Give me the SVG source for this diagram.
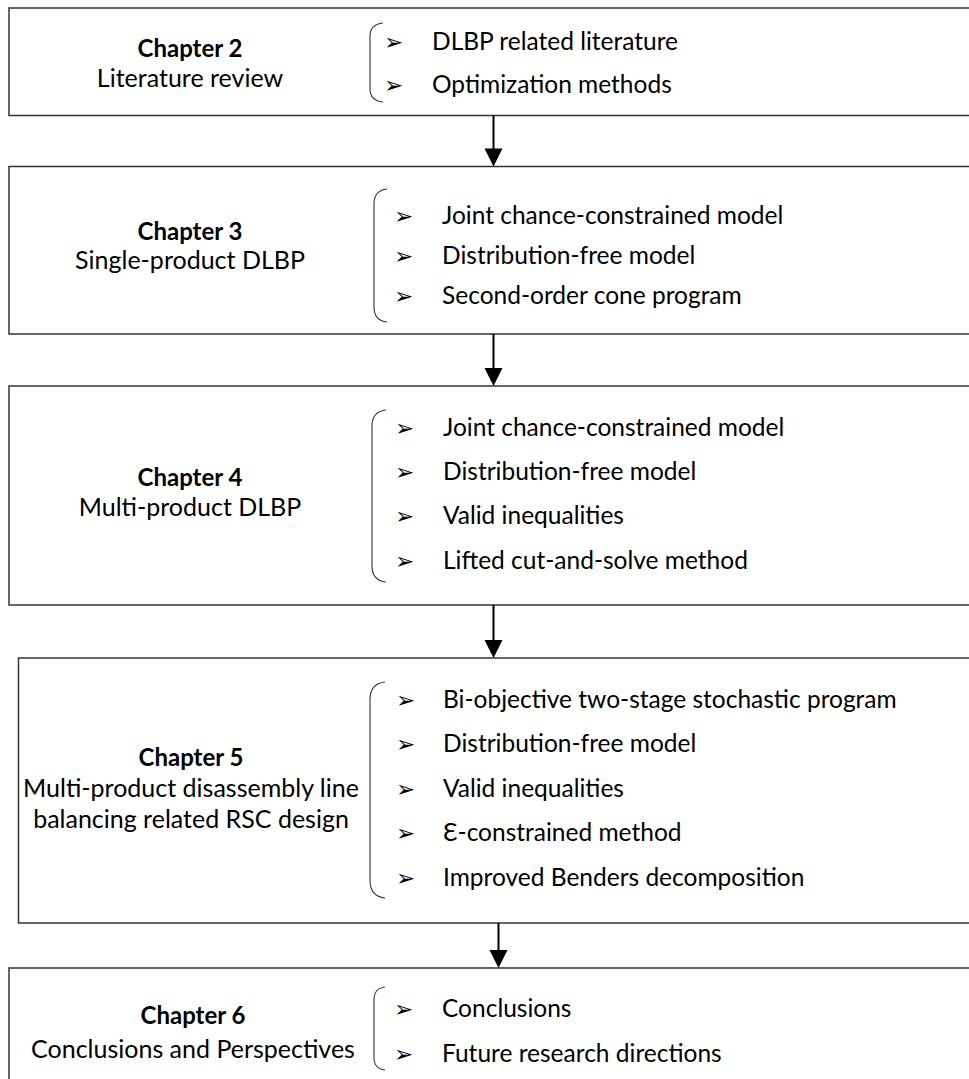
<svg xmlns="http://www.w3.org/2000/svg" width="969" height="1079" viewBox="0 0 969 1079">
  <style>
    .box { fill: #ffffff; stroke: #333333; stroke-width: 1.5; }
    .brace { fill: none; stroke: #333333; stroke-width: 1.1; }
    .title { font-family: Lato, "Liberation Sans", sans-serif; font-weight: bold; font-size: 24px; fill: #000000; text-anchor: middle; }
    .sub { font-family: Lato, "Liberation Sans", sans-serif; font-size: 25px; fill: #000000; text-anchor: middle; }
    .item { font-family: Lato, "Liberation Sans", sans-serif; font-size: 24.5px; fill: #000000; }
    .bullet { font-family: "DejaVu Sans", sans-serif; font-size: 23px; fill: #000000; }
    .link { stroke: #000000; stroke-width: 2; fill: none; }
    .head { fill: #000000; }
  </style>

  <rect width="969" height="1079" fill="#ffffff"/>

  <!-- Chapter 2 -->
  <g id="chapter2">
    <rect class="box" x="9" y="8" width="980" height="107.5"/>
    <text class="title" x="190" y="57">Chapter 2</text>
    <text class="sub" x="190" y="87">Literature review</text>
    <path class="brace" d="M383 23 C374 24 370 28 370 36 L370 89 C370 97 374 101 383 102"/>
    <text class="bullet" x="384" y="50">➢</text>
    <text class="item" x="432" y="50">DLBP related literature</text>
    <text class="bullet" x="384" y="93">➢</text>
    <text class="item" x="432" y="93">Optimization methods</text>
  </g>

  <!-- Chapter 3 -->
  <g id="chapter3">
    <rect class="box" x="9" y="166.5" width="980" height="167.5"/>
    <text class="title" x="190" y="240">Chapter 3</text>
    <text class="sub" x="190" y="269">Single-product DLBP</text>
    <path class="brace" d="M387 189 C378 190 374 195 374 204 L374 307 C374 316 378 321 387 322"/>
    <text class="bullet" x="394" y="224">➢</text>
    <text class="item" x="442" y="224">Joint chance-constrained model</text>
    <text class="bullet" x="394" y="264">➢</text>
    <text class="item" x="442" y="264">Distribution-free model</text>
    <text class="bullet" x="394" y="304">➢</text>
    <text class="item" x="442" y="304">Second-order cone program</text>
  </g>

  <!-- Chapter 4 -->
  <g id="chapter4">
    <rect class="box" x="9" y="386" width="980" height="219"/>
    <text class="title" x="190" y="486">Chapter 4</text>
    <text class="sub" x="190" y="516">Multi-product DLBP</text>
    <path class="brace" d="M386 410 C377 411 372 416 372 426 L372 566 C372 576 377 581 386 582"/>
    <text class="bullet" x="395" y="436">➢</text>
    <text class="item" x="443" y="436">Joint chance-constrained model</text>
    <text class="bullet" x="395" y="480">➢</text>
    <text class="item" x="443" y="480">Distribution-free model</text>
    <text class="bullet" x="395" y="524">➢</text>
    <text class="item" x="443" y="524">Valid inequalities</text>
    <text class="bullet" x="395" y="569">➢</text>
    <text class="item" x="443" y="569">Lifted cut-and-solve method</text>
  </g>

  <!-- Chapter 5 -->
  <g id="chapter5">
    <rect class="box" x="18.5" y="658" width="980" height="265"/>
    <text class="title" x="191" y="766">Chapter 5</text>
    <text class="sub" x="191" y="797">Multi-product disassembly line</text>
    <text class="sub" x="191" y="828">balancing related RSC design</text>
    <path class="brace" d="M385 682 C375 683 370 689 370 700 L370 880 C370 891 375 897 385 898"/>
    <text class="bullet" x="396" y="708">➢</text>
    <text class="item" x="443" y="708">Bi-objective two-stage stochastic program</text>
    <text class="bullet" x="396" y="752">➢</text>
    <text class="item" x="443" y="752">Distribution-free model</text>
    <text class="bullet" x="396" y="797">➢</text>
    <text class="item" x="443" y="797">Valid inequalities</text>
    <text class="bullet" x="396" y="841">➢</text>
    <text class="item" x="443" y="841">Ɛ-constrained method</text>
    <text class="bullet" x="396" y="886">➢</text>
    <text class="item" x="443" y="886">Improved Benders decomposition</text>
  </g>

  <!-- Chapter 6 -->
  <g id="chapter6">
    <rect class="box" x="9" y="968" width="980" height="130"/>
    <text class="title" x="193" y="1024">Chapter 6</text>
    <text class="sub" x="193" y="1058">Conclusions and Perspectives</text>
    <path class="brace" d="M385 987 C377 988 374 992 374 1000 L374 1057 C374 1065 377 1069 385 1070"/>
    <text class="bullet" x="394" y="1017">➢</text>
    <text class="item" x="442" y="1017">Conclusions</text>
    <text class="bullet" x="394" y="1062">➢</text>
    <text class="item" x="442" y="1062">Future research directions</text>
  </g>

  <!-- Connectors between chapters -->
  <g id="connectors">
    <line class="link" x1="493.5" y1="115.5" x2="493.5" y2="150"/>
    <polygon class="head" points="484.5,148.5 502.5,148.5 493.5,166.5"/>
    <line class="link" x1="493.5" y1="334" x2="493.5" y2="370"/>
    <polygon class="head" points="484.5,368 502.5,368 493.5,386"/>
    <line class="link" x1="493.5" y1="605" x2="493.5" y2="642"/>
    <polygon class="head" points="484.5,640 502.5,640 493.5,658"/>
    <line class="link" x1="498.5" y1="923" x2="498.5" y2="952"/>
    <polygon class="head" points="489.5,950 507.5,950 498.5,968"/>
  </g>
</svg>
